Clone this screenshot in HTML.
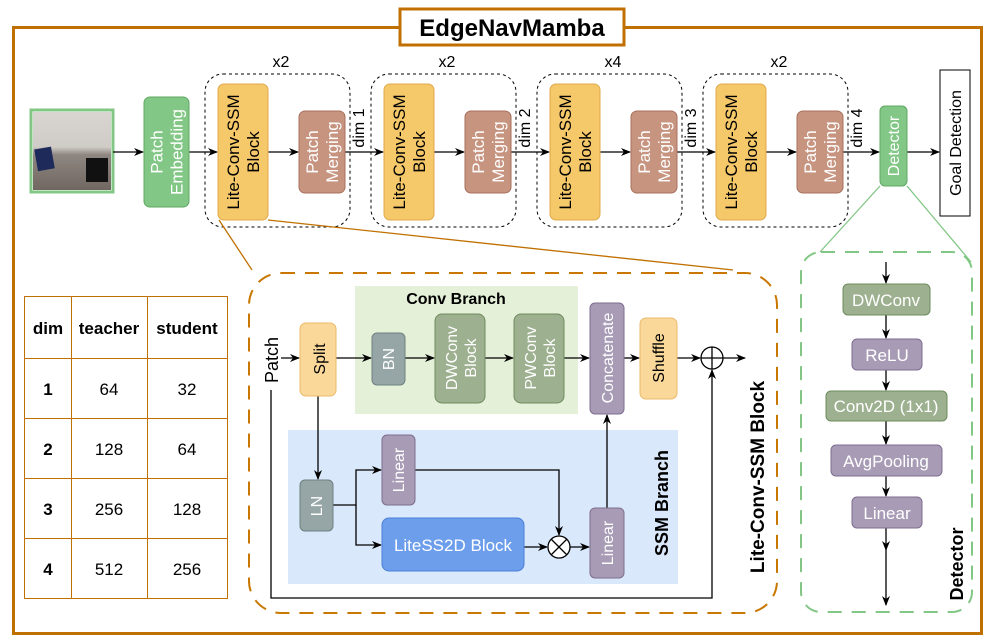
<!DOCTYPE html>
<html><head><meta charset="utf-8"><style>
body{margin:0;background:#fff}
svg{display:block;font-family:"Liberation Sans",sans-serif}
</style></head><body>
<svg width="996" height="644" viewBox="0 0 996 644" xmlns="http://www.w3.org/2000/svg">
<defs>
<marker id="a" markerWidth="10" markerHeight="10" refX="9" refY="5" orient="auto" markerUnits="userSpaceOnUse"><path d="M0,1 L10,5 L0,9 L3,5 z" fill="#000"/></marker>
<linearGradient id="wall" x1="0" y1="0" x2="0" y2="1"><stop offset="0" stop-color="#d9d6d2"/><stop offset="0.45" stop-color="#cfcbc6"/><stop offset="0.55" stop-color="#8e8680"/><stop offset="1" stop-color="#6f6760"/></linearGradient>
</defs>
<rect x="13.5" y="27.5" width="968" height="606" fill="none" stroke="#C07000" stroke-width="3"/>
<rect x="400" y="9" width="224" height="36" fill="#fff" stroke="#C07000" stroke-width="3"/>
<text x="512" y="36" font-size="24" font-weight="bold" text-anchor="middle">EdgeNavMamba</text>

<rect x="31" y="110" width="82" height="82" fill="#fff" stroke="#82C785" stroke-width="3"/>
<rect x="33" y="112" width="78" height="78" fill="url(#wall)"/>
<rect x="36" y="148" width="17" height="22" fill="#1d2a5a" transform="rotate(-10 44 159)"/>
<rect x="86" y="158" width="22" height="24" fill="#111"/>

<g stroke="#000" stroke-width="1.3" fill="none" marker-end="url(#a)">
<line x1="113" y1="152" x2="143" y2="152"/>
<line x1="189" y1="152" x2="217" y2="152"/>
<line x1="268" y1="152" x2="298" y2="152"/>
<line x1="345" y1="152" x2="383" y2="152"/>
<line x1="434" y1="152" x2="464" y2="152"/>
<line x1="511" y1="152" x2="549" y2="152"/>
<line x1="600" y1="152" x2="630" y2="152"/>
<line x1="677" y1="152" x2="715" y2="152"/>
<line x1="766" y1="152" x2="796" y2="152"/>
<line x1="843" y1="152" x2="879" y2="152"/>
<line x1="907" y1="152" x2="939" y2="152"/>
</g>

<rect x="144" y="97" width="45" height="110" rx="6" fill="#82C785" stroke="#5FA862"/>
<text transform="translate(166.5 152) rotate(-90)" font-size="17" fill="#fff" text-anchor="middle"><tspan x="0" dy="-4">Patch</tspan><tspan x="0" dy="20">Embedding</tspan></text>

<g id="st">
<rect x="205" y="74" width="145" height="153" rx="18" fill="none" stroke="#000" stroke-dasharray="3,3"/>
<rect x="218" y="84" width="50" height="136" rx="6" fill="#F5C86A" stroke="#E0A94A"/>
<text transform="translate(243 152) rotate(-90)" font-size="17" text-anchor="middle"><tspan x="0" dy="-4">Lite-Conv-SSM</tspan><tspan x="0" dy="20">Block</tspan></text>
<rect x="299" y="111" width="46" height="82" rx="6" fill="#C79480" stroke="#A8705C"/>
<text transform="translate(322 152) rotate(-90)" font-size="17" fill="#fff" text-anchor="middle"><tspan x="0" dy="-4">Patch</tspan><tspan x="0" dy="20">Merging</tspan></text>
</g>
<use href="#st" x="166"/>
<use href="#st" x="332"/>
<use href="#st" x="498"/>
<g font-size="16" text-anchor="middle">
<text x="281" y="67">x2</text><text x="447" y="67">x2</text><text x="613" y="67">x4</text><text x="779" y="67">x2</text>
<text transform="translate(364 128) rotate(-90)" text-anchor="middle">dim 1</text>
<text transform="translate(530 128) rotate(-90)" text-anchor="middle">dim 2</text>
<text transform="translate(696 128) rotate(-90)" text-anchor="middle">dim 3</text>
<text transform="translate(862 128) rotate(-90)" text-anchor="middle">dim 4</text>
</g>
<rect x="880" y="106" width="27" height="80" rx="5" fill="#82C785" stroke="#5FA862"/>
<text transform="translate(899 146) rotate(-90)" font-size="16" fill="#fff" text-anchor="middle">Detector</text>
<rect x="940" y="70" width="30" height="146" fill="#fff" stroke="#000"/>
<text transform="translate(961 143) rotate(-90)" font-size="16" text-anchor="middle">Goal Detection</text>

<line x1="219" y1="220" x2="252" y2="270" stroke="#C07000" stroke-width="1.3"/>
<line x1="268" y1="220" x2="733" y2="270" stroke="#C07000" stroke-width="1.3"/>
<line x1="880" y1="186" x2="820" y2="252" stroke="#82C785" stroke-width="1.3"/>
<line x1="907" y1="186" x2="971" y2="262" stroke="#82C785" stroke-width="1.3"/>

<g stroke="#C07000" stroke-width="1" fill="none">
<rect x="24.5" y="296.5" width="203" height="302"/>
<line x1="71.5" y1="296" x2="71.5" y2="598"/><line x1="147.5" y1="296" x2="147.5" y2="598"/>
<line x1="24" y1="358.5" x2="228" y2="358.5"/><line x1="24" y1="418.5" x2="228" y2="418.5"/>
<line x1="24" y1="478.5" x2="228" y2="478.5"/><line x1="24" y1="538.5" x2="228" y2="538.5"/>
</g>
<g font-size="17" text-anchor="middle">
<text x="48" y="334" font-weight="bold">dim</text><text x="109" y="334" font-weight="bold">teacher</text><text x="187" y="334" font-weight="bold">student</text>
<text x="48" y="395" font-weight="bold">1</text><text x="109" y="395">64</text><text x="187" y="395">32</text>
<text x="48" y="455" font-weight="bold">2</text><text x="109" y="455">128</text><text x="187" y="455">64</text>
<text x="48" y="515" font-weight="bold">3</text><text x="109" y="515">256</text><text x="187" y="515">128</text>
<text x="48" y="575" font-weight="bold">4</text><text x="109" y="575">512</text><text x="187" y="575">256</text>
</g>

<rect x="249" y="273" width="528" height="340" rx="32" fill="none" stroke="#C87800" stroke-width="2" stroke-dasharray="14,10"/>
<rect x="355" y="286" width="223" height="128" fill="#E5F0D9"/>
<rect x="288" y="430" width="390" height="154" fill="#DAE8FB"/>
<text x="456" y="304" font-size="16" font-weight="bold" text-anchor="middle">Conv Branch</text>
<text transform="translate(278 360) rotate(-90)" font-size="18" text-anchor="middle">Patch</text>

<g stroke="#000" stroke-width="1.3" fill="none" marker-end="url(#a)">
<line x1="281" y1="358" x2="299" y2="358"/>
<line x1="336" y1="358" x2="371" y2="358"/>
<line x1="405" y1="358" x2="434" y2="358"/>
<line x1="485" y1="358" x2="513" y2="358"/>
<line x1="564" y1="358" x2="589" y2="358"/>
<line x1="624" y1="358" x2="639" y2="358"/>
<line x1="677" y1="358" x2="700" y2="358"/>
<line x1="723" y1="358" x2="745" y2="358"/>
<line x1="318" y1="396" x2="318" y2="479"/>
<polyline points="333,505 356,505 356,470 381,470"/>
<polyline points="356,505 356,545 381,545"/>
<polyline points="415,470 559,470 559,535"/>
<line x1="524" y1="547" x2="547" y2="547"/>
<line x1="570" y1="547" x2="589" y2="547"/>
<line x1="607" y1="508" x2="607" y2="415"/>
<polyline points="271,390 271,598 712,598 712,370"/>
</g>
<rect x="300" y="323" width="36" height="73" rx="6" fill="#F9D89A" stroke="#EBBA6A"/>
<text transform="translate(325 359) rotate(-90)" font-size="16" text-anchor="middle">Split</text>
<rect x="372" y="333" width="33" height="52" rx="5" fill="#96A6A7" stroke="#6E8080"/>
<text transform="translate(394 359) rotate(-90)" font-size="16" fill="#fff" text-anchor="middle">BN</text>
<rect x="435" y="314" width="50" height="89" rx="7" fill="#9DB08F" stroke="#6E8B5E"/>
<text transform="translate(460 358) rotate(-90)" font-size="16" fill="#fff" text-anchor="middle"><tspan x="0" dy="-3">DWConv</tspan><tspan x="0" dy="19">Block</tspan></text>
<rect x="514" y="314" width="50" height="89" rx="7" fill="#9DB08F" stroke="#6E8B5E"/>
<text transform="translate(539 358) rotate(-90)" font-size="16" fill="#fff" text-anchor="middle"><tspan x="0" dy="-3">PWConv</tspan><tspan x="0" dy="19">Block</tspan></text>
<rect x="590" y="303" width="34" height="111" rx="5" fill="#A89BB5" stroke="#7E6E90"/>
<text transform="translate(613 358) rotate(-90)" font-size="16" fill="#fff" text-anchor="middle">Concatenate</text>
<rect x="640" y="318" width="37" height="81" rx="6" fill="#F9D89A" stroke="#EBBA6A"/>
<text transform="translate(664 358) rotate(-90)" font-size="16" text-anchor="middle">Shuffle</text>
<circle cx="712" cy="358" r="11" fill="#fff" stroke="#000" stroke-width="1.3"/>
<path d="M701 358h22M712 347v22" stroke="#000" stroke-width="1.3"/>
<rect x="300" y="480" width="33" height="51" rx="5" fill="#96A6A7" stroke="#6E8080"/>
<text transform="translate(322 506) rotate(-90)" font-size="16" fill="#fff" text-anchor="middle">LN</text>
<rect x="382" y="435" width="33" height="70" rx="5" fill="#A89BB5" stroke="#7E6E90"/>
<text transform="translate(404 470) rotate(-90)" font-size="16" fill="#fff" text-anchor="middle">Linear</text>
<rect x="382" y="518" width="142" height="53" rx="7" fill="#6D9EEB" stroke="#4A7FD8"/>
<text x="453" y="551" font-size="17" fill="#fff" text-anchor="middle">LiteSS2D Block</text>
<circle cx="559" cy="547" r="11" fill="#fff" stroke="#000" stroke-width="1.3"/>
<path d="M551 539l16 16M567 539l-16 16" stroke="#000" stroke-width="1.3"/>
<rect x="590" y="508" width="34" height="70" rx="5" fill="#A89BB5" stroke="#7E6E90"/>
<text transform="translate(613 543) rotate(-90)" font-size="16" fill="#fff" text-anchor="middle">Linear</text>
<text transform="translate(668 503) rotate(-90)" font-size="18" font-weight="bold" text-anchor="middle">SSM Branch</text>
<text transform="translate(764 477) rotate(-90)" font-size="19" font-weight="bold" text-anchor="middle">Lite-Conv-SSM Block</text>

<rect x="801" y="252" width="171" height="360" rx="20" fill="none" stroke="#82C785" stroke-width="2" stroke-dasharray="14,10"/>
<g stroke="#000" stroke-width="1.3" fill="none" marker-end="url(#a)">
<line x1="886" y1="262" x2="886" y2="283"/>
<line x1="886" y1="315" x2="886" y2="338"/>
<line x1="886" y1="370" x2="886" y2="390"/>
<line x1="886" y1="421" x2="886" y2="444"/>
<line x1="886" y1="476" x2="886" y2="496"/>
<line x1="886" y1="528" x2="886" y2="550"/>
<line x1="886" y1="550" x2="886" y2="605"/>
</g>
<g font-size="17" fill="#fff" text-anchor="middle">
<rect x="843" y="284" width="87" height="31" rx="5" fill="#9DB08F" stroke="#6E8B5E"/><text x="886" y="306">DWConv</text>
<rect x="852" y="339" width="70" height="31" rx="5" fill="#A89BB5" stroke="#7E6E90"/><text x="887" y="361">ReLU</text>
<rect x="826" y="391" width="121" height="30" rx="5" fill="#9DB08F" stroke="#6E8B5E"/><text x="886" y="412">Conv2D (1x1)</text>
<rect x="831" y="445" width="111" height="31" rx="5" fill="#A89BB5" stroke="#7E6E90"/><text x="886" y="467">AvgPooling</text>
<rect x="852" y="497" width="70" height="31" rx="5" fill="#A89BB5" stroke="#7E6E90"/><text x="887" y="519">Linear</text>
</g>
<text transform="translate(963 564) rotate(-90)" font-size="18" font-weight="bold" text-anchor="middle">Detector</text>
</svg>
</body></html>
